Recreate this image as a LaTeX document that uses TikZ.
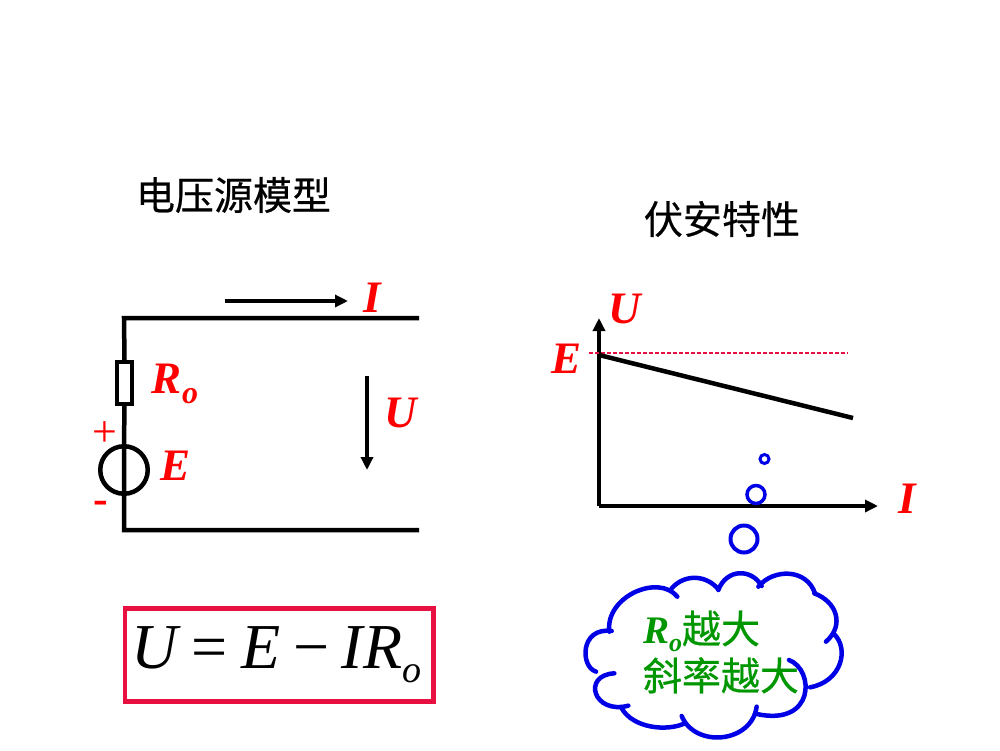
\documentclass[tikz,border=0pt]{standalone}
\usepackage{fontspec}
\setmainfont{Liberation Serif}
\newfontfamily\cjk[FakeBold=0.5]{Noto Sans CJK SC}
\usetikzlibrary{arrows.meta}
\definecolor{boxred}{RGB}{232,16,64}
\definecolor{cloudblue}{RGB}{0,0,230}
\definecolor{notegreen}{RGB}{0,150,0}
\tikzset{
  x=1pt,y=-1pt,
  wire/.style={draw=black,line width=4.5pt},
  arrowline/.style={draw=black,line width=3.8pt,-{Triangle[length=13pt,width=12pt]}},
  varlabel/.style={inner sep=0pt,text=red,font=\fontsize{45}{45}\selectfont\bfseries\itshape},
  signlabel/.style={inner sep=0pt,text=red,font=\fontsize{44}{44}\selectfont},
  title/.style={inner sep=0pt,text=black,font=\cjk\fontsize{39}{39}\selectfont},
  bubble/.style={circle,draw=cloudblue,inner sep=0pt,fill=white},
  cloudline/.style={draw=cloudblue,line width=4.5pt,line cap=round},
}
\begin{document}
\begin{tikzpicture}
\useasboundingbox (0,0) rectangle (1000,750);
% titles
\node[title] (t1) at (233.5,195) {电压源模型};
\node[title] (t2) at (722,219) {伏安特性};
% circuit
\coordinate (tr) at (419,318);
\coordinate (tl) at (124,318);
\coordinate (bl) at (124,530);
\coordinate (br) at (419,530);
\node[draw=black,line width=4pt,minimum width=15pt,minimum height=42pt,inner sep=0pt] (ro) at (124.5,383) {};
\node[circle,draw=black,line width=4.5pt,minimum size=47.5pt,inner sep=0pt] (src) at (124,470) {};
\draw[wire,line cap=butt] (tr) -- (tl) -- (ro.north);
\draw[wire,line cap=butt] (ro.south) -- (src.north) -- (src.south) -- (bl) -- (br);
\coordinate (ia) at (225,301);
\coordinate (ib) at (348,301);
\draw[arrowline] (ia) -- (ib);
\coordinate (ua) at (367,376);
\coordinate (ub) at (367,470);
\draw[arrowline] (ua) -- (ub);
\node[varlabel] (li) at (372,298) {I};
\node[varlabel] (lu) at (401,413) {U};
\node[varlabel] (lr) at (175,384) {R\raisebox{-10pt}{\fontsize{32}{32}\selectfont o}};
\node[varlabel] (le) at (175.5,466) {E};
\node[signlabel] (lp) at (105,434) {+};
\node[signlabel] (lm) at (101,507) {\bfseries -};
% formula
\node[draw=boxred,line width=4.5pt,minimum width=308.5pt,minimum height=93pt,inner sep=0pt,
  font=\fontsize{64}{64}\selectfont] (fm) at (279.2,655)
  {\raisebox{-4pt}{\itshape U\upshape\hspace{14pt}=\hspace{14pt}\itshape E\hspace{13pt}\upshape−\hspace{12pt}\itshape IR\raisebox{-14pt}{\fontsize{38}{38}\selectfont o}\hspace{6pt}}};
% graph
\coordinate (org) at (599,506);
\coordinate (ytop) at (599,318);
\coordinate (xend) at (878,506);
\draw[arrowline,line width=4.2pt] (org) -- (ytop);
\draw[arrowline,line width=4.2pt] (org) -- (xend);
\coordinate (da) at (589,353);
\coordinate (db) at (848,353);
\draw[color=boxred,line width=1.2pt,dash pattern=on 4pt off 2pt] (da) -- (db);
\coordinate (la) at (599,355);
\coordinate (lb) at (853,418);
\draw[wire] (la) -- (lb);
\node[varlabel] (gu) at (625,309) {U};
\node[varlabel] (ge) at (566,359) {E};
\node[varlabel] (gi) at (907,499) {I};
% bubbles
\node[bubble,line width=3pt,minimum size=9pt] (b1) at (764.5,459) {};
\node[bubble,line width=3.5pt,minimum size=18pt] (b2) at (756,494.5) {};
\node[bubble,line width=4pt,minimum size=27pt] (b3) at (744,539) {};
% cloud (zoom coordinates / 3 + offset)
\begin{scope}[shift={(570,560)},x=0.3333pt,y=-0.3333pt]
\draw[cloudline] (118,215) .. controls (105,110) and (265,40) .. (322,110);
\draw[cloudline] (305,85) .. controls (345,40) and (410,45) .. (445,88);
\draw[cloudline] (445,90) .. controls (470,25) and (545,25) .. (575,78);
\draw[cloudline] (565,80) .. controls (610,25) and (710,25) .. (735,100);
\draw[cloudline] (733,100) .. controls (800,125) and (825,195) .. (768,245);
\draw[cloudline] (790,220) .. controls (840,265) and (815,365) .. (720,382);
\draw[cloudline] (657,300) .. controls (735,330) and (735,500) .. (560,462);
\draw[cloudline] (560,440) .. controls (545,550) and (375,565) .. (335,468);
\draw[cloudline] (345,490) .. controls (290,515) and (190,505) .. (155,445);
\draw[cloudline] (175,437) .. controls (70,465) and (35,345) .. (133,340);
\draw[cloudline] (78,335) .. controls (30,320) and (30,200) .. (125,213);
\end{scope}
\node[inner sep=0pt,text=notegreen,align=left,font=\cjk\fontsize{39}{47}\selectfont] (note) at (721,652)
 {{\fontspec{Liberation Serif}\bfseries\itshape R\raisebox{-8pt}{\fontsize{26}{26}\selectfont o}}越大\\斜率越大};
\end{tikzpicture}
\end{document}
